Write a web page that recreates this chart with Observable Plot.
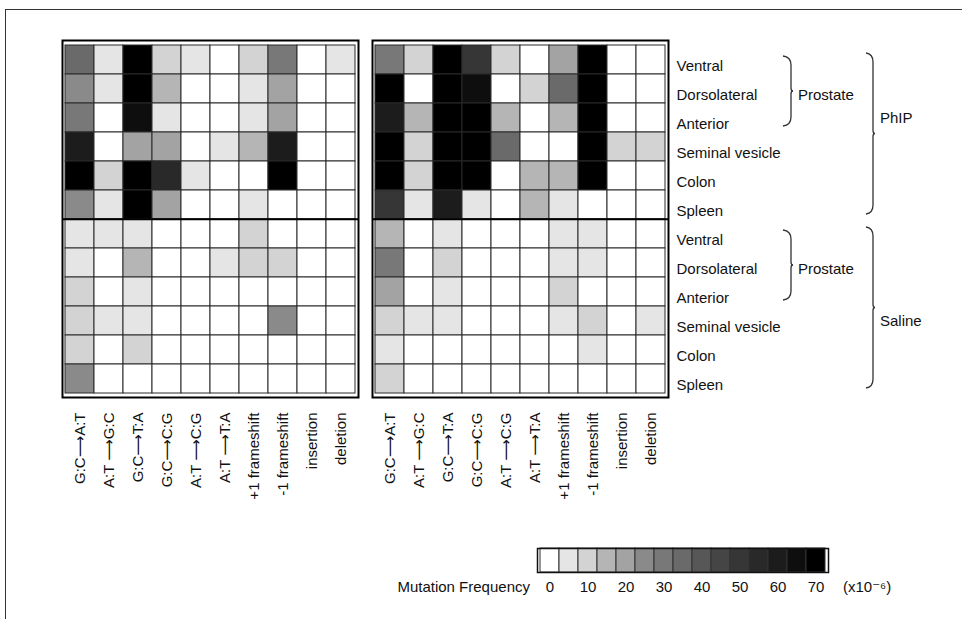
<!DOCTYPE html>
<html><head><meta charset="utf-8">
<script src="https://cdn.jsdelivr.net/npm/d3@7"></script>
<script src="https://cdn.jsdelivr.net/npm/@observablehq/plot@0.6"></script>
<style>
body{margin:0;background:#fff;}
#fig{position:relative;width:962px;height:619px;overflow:hidden;font-family:"Liberation Sans",Arial,sans-serif;}
#border{position:absolute;left:5px;top:9px;right:-5px;bottom:-5px;border-top:1.5px solid #333;border-left:1.5px solid #333;}
#main{position:absolute;left:0;top:0;}
#legend{position:absolute;left:380px;top:540px;}
</style></head><body>
<div id="fig"><div id="border"></div><div id="main"></div><div id="legend"></div></div>
<script>
// ---- data (mutation frequency, x10^-6) ----
const mutationTypes = ["G:C⟶A:T","A:T ⟶G:C","G:C⟶T:A","G:C⟶C:G","A:T ⟶C:G","A:T ⟶T:A","+1 frameshift","-1 frameshift","insertion","deletion"];
const tissues = ["Ventral","Dorsolateral","Anterior","Seminal vesicle","Colon","Spleen"];
const treatments = ["PhIP","Saline"];
const prostateTissues = ["Ventral","Dorsolateral","Anterior"];
const panels = ["left","right"];
// rows: PhIP (6 tissues) then Saline (6 tissues); columns follow mutationTypes
const leftPanel = [
  [35, 5, 70, 10, 5, 0, 10, 30, 0, 5],
  [25, 5, 70, 15, 0, 0, 5, 20, 0, 0],
  [30, 0, 65, 5, 0, 0, 5, 20, 0, 0],
  [60, 0, 20, 20, 0, 5, 15, 60, 0, 0],
  [70, 10, 70, 55, 5, 0, 0, 70, 0, 0],
  [25, 5, 70, 20, 0, 0, 5, 0, 0, 0],
  [5, 5, 5, 0, 0, 0, 10, 0, 0, 0],
  [5, 0, 15, 0, 0, 5, 10, 10, 0, 0],
  [10, 0, 5, 0, 0, 0, 0, 0, 0, 0],
  [10, 5, 5, 0, 0, 0, 0, 25, 0, 0],
  [10, 0, 10, 0, 0, 0, 0, 0, 0, 0],
  [25, 0, 0, 0, 0, 0, 0, 0, 0, 0]
];
const rightPanel = [
  [30, 10, 70, 50, 10, 0, 20, 70, 0, 0],
  [70, 0, 70, 65, 0, 10, 35, 70, 0, 0],
  [60, 15, 70, 70, 15, 0, 15, 70, 0, 0],
  [70, 10, 70, 70, 35, 0, 0, 70, 10, 10],
  [70, 10, 70, 70, 0, 15, 15, 70, 0, 0],
  [50, 5, 60, 5, 0, 15, 5, 0, 0, 0],
  [15, 0, 5, 0, 0, 0, 5, 5, 0, 0],
  [30, 0, 10, 0, 0, 0, 5, 5, 0, 0],
  [20, 0, 5, 0, 0, 0, 10, 0, 0, 0],
  [10, 5, 5, 0, 0, 0, 5, 10, 0, 5],
  [5, 0, 0, 0, 0, 0, 0, 5, 0, 0],
  [10, 0, 0, 0, 0, 0, 0, 0, 0, 0]
];
const legendLevels = [0,5,10,15,20,25,30,35,40,45,50,55,60,65,70];
const legendTickLabels = [0,10,20,30,40,50,60,70];
const greyLevels = ["#ffffff","#e5e5e5","#d3d3d3","#b5b5b5","#a3a3a3","#8a8a8a","#787878","#6a6a6a","#575757","#454545","#363636","#292929","#1c1c1c","#0e0e0e","#000000"];

// ---- build table ----
const rowKeys = treatments.flatMap(g => tissues.map(t => g + "|" + t));
const matrices = {left: leftPanel, right: rightPanel};
const cells = [];
for (const p of panels) matrices[p].forEach((row, ri) => row.forEach((v, ci) => {
  cells.push({panel: p, row: rowKeys[ri], type: mutationTypes[ci], value: v});
}));

const FONT = '"Liberation Sans", Arial, "DejaVu Sans", sans-serif';
const W = 962, H = 500, mt = 40, mb = 103, ml = 61, mr = 293;
const rowH = (H - mt - mb) / rowKeys.length;
const colorOpts = {type: "linear", domain: legendLevels, range: greyLevels, clamp: true};

const main = Plot.plot({
  width: W, height: H, marginTop: mt, marginBottom: mb, marginLeft: ml, marginRight: mr,
  style: {fontFamily: FONT, fontSize: "15px", color: "#111", background: "transparent"},
  fx: {domain: panels, axis: null, paddingInner: 0.045, paddingOuter: 0},
  x: {domain: mutationTypes, padding: 0, axis: null},
  y: {domain: rowKeys, padding: 0, axis: null},
  color: colorOpts,
  marks: [
    Plot.cell(cells, {fx: "panel", x: "type", y: "row", fill: "value", stroke: "#2a2a2a", strokeWidth: 1}),
    Plot.ruleY([rowKeys[6]], {stroke: "#000", strokeWidth: 2, dy: -rowH / 2}),
    Plot.frame({stroke: "#000", strokeWidth: 2}),
    Plot.axisX({tickRotate: -90, tickSize: 0, tickPadding: 15, fontSize: 15, label: null}),
    Plot.axisY({anchor: "right", tickSize: 0, tickPadding: 8, dy: 6, fontSize: 15, label: null, tickFormat: d => d.split("|")[1]})
  ]
});
document.getElementById("main").appendChild(main);

// ---- brackets for group annotations ----
const ys = main.scale("y");
const bw = ys.bandwidth;
const xR = W - mr;
const svg = d3.select(main);
const g = svg.append("g").attr("fill", "none").attr("stroke", "#333").attr("stroke-width", 1.3);
const lbl = svg.append("g").attr("font-family", FONT).attr("font-size", 15).attr("fill", "#111").attr("text-anchor", "start");
function bracket(x0, x1, y0, y1) {
  const ym = (y0 + y1) / 2;
  return `M${x0},${y0} Q${x1},${y0 + 1} ${x1},${y0 + 9} L${x1},${ym - 3} Q${x1},${ym} ${x1 + 2},${ym} Q${x1},${ym} ${x1},${ym + 3} L${x1},${y1 - 9} Q${x1},${y1 - 1} ${x0},${y1}`;
}
treatments.forEach((tr, gi) => {
  const k = t => tr + "|" + t;
  // inner prostate bracket
  const p0 = ys.apply(k(prostateTissues[0])) + 11;
  const p1 = ys.apply(k(prostateTissues[prostateTissues.length - 1])) + bw - 6;
  g.append("path").attr("d", bracket(xR + 114, xR + 122, p0, p1));
  lbl.append("text").attr("x", xR + 129).attr("y", ys.apply(k("Dorsolateral")) + bw / 2 + 6).attr("dy", "0.35em").text("Prostate");
  // outer treatment bracket
  const o0 = ys.apply(k(tissues[0])) + 8;
  const o1 = ys.apply(k(tissues[tissues.length - 1])) + bw - 5;
  g.append("path").attr("d", bracket(xR + 197, xR + 204, o0, o1));
  const labRow = gi === 0 ? "Anterior" : "Seminal vesicle";
  lbl.append("text").attr("x", xR + 211).attr("y", ys.apply(k(labRow)) + bw / 2).attr("dy", "0.35em").text(tr);
});

// ---- colour legend ----
const legend = Plot.plot({
  width: 540, height: 74, marginTop: 8, marginBottom: 42, marginLeft: 157, marginRight: 92,
  style: {fontFamily: FONT, fontSize: "15px", color: "#111", background: "transparent"},
  x: {type: "band", domain: legendLevels, padding: 0, axis: null},
  color: colorOpts,
  marks: [
    Plot.cell(legendLevels, {x: d => d, fill: d => d, stroke: "#333", strokeWidth: 1}),
    Plot.frame({stroke: "#111", strokeWidth: 1.5}),
    Plot.text(legendTickLabels, {x: d => d, text: d => String(d), frameAnchor: "bottom", dy: 19, fontSize: 15}),
    Plot.text(["Mutation Frequency"], {x: () => legendLevels[0], text: d => d, frameAnchor: "bottom", dy: 19, dx: -20, textAnchor: "end", fontSize: 15}),
    Plot.text(["(x10⁻⁶)"], {x: () => legendLevels[legendLevels.length - 1], text: d => d, frameAnchor: "bottom", dy: 19, dx: 27, textAnchor: "start", fontSize: 15})
  ]
});
document.getElementById("legend").appendChild(legend);
</script>
</body></html>
